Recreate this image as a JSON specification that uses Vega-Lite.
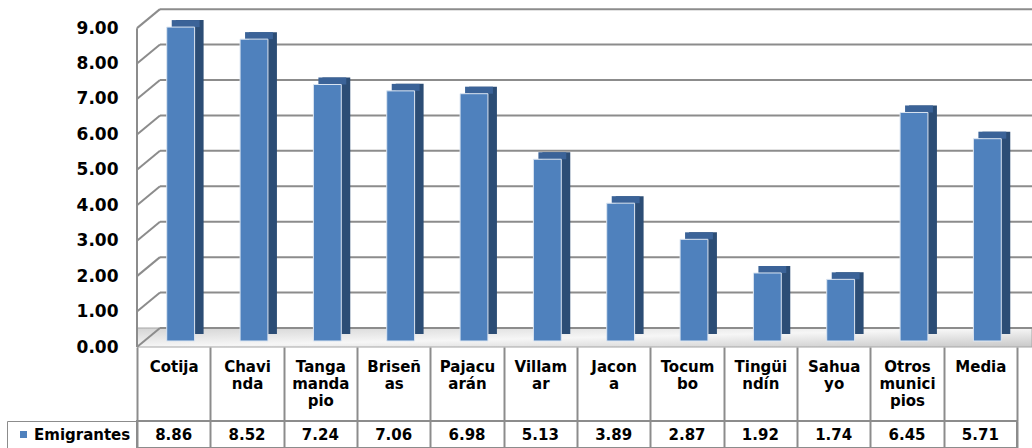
{
  "$schema": "https://vega.github.io/schema/vega-lite/v6.json",
  "padding": {"left": 5, "top": 8, "right": 0, "bottom": 0},
  "background": "white",
  "spacing": 74,
  "bounds": "flush",
  "resolve": {"scale": {"color": "independent"}, "legend": {"color": "independent"}},
  "config": {
    "font": "DejaVu Sans",
    "axisY": {"labelOverlap": false, "labelFont": "DejaVu Sans", "labelFontWeight": "bold", "labelFontSize": 17, "labelColor": "black", "labelPadding": 19, "ticks": false, "domain": false, "grid": false}
  },
  "datasets": {
    "datos": [
      {"municipio": "Cotija", "valor": 8.86, "serie": "Emigrantes"},
      {"municipio": "Chavinda", "valor": 8.52, "serie": "Emigrantes"},
      {"municipio": "Tangamandapio", "valor": 7.24, "serie": "Emigrantes"},
      {"municipio": "Briseñas", "valor": 7.06, "serie": "Emigrantes"},
      {"municipio": "Pajacuarán", "valor": 6.98, "serie": "Emigrantes"},
      {"municipio": "Villamar", "valor": 5.13, "serie": "Emigrantes"},
      {"municipio": "Jacona", "valor": 3.89, "serie": "Emigrantes"},
      {"municipio": "Tocumbo", "valor": 2.87, "serie": "Emigrantes"},
      {"municipio": "Tingüindín", "valor": 1.92, "serie": "Emigrantes"},
      {"municipio": "Sahuayo", "valor": 1.74, "serie": "Emigrantes"},
      {"municipio": "Otros municipios", "valor": 6.45, "serie": "Emigrantes"},
      {"municipio": "Media", "valor": 5.71, "serie": "Emigrantes"}
    ],
    "ejes": [
      {"v": 0}, {"v": 1}, {"v": 2}, {"v": 3}, {"v": 4},
      {"v": 5}, {"v": 6}, {"v": 7}, {"v": 8}, {"v": 9}
    ]
  },
  "vconcat": [
    {
      "width": 880,
      "height": 338,
      "view": {"stroke": null},
      "layer": [
        {
          "data": {"name": "ejes"},
          "transform": [{"filter": "datum.v == 0"}],
          "mark": {"type": "rect", "y2Offset": -19, "x2Offset": 15, "color": {"gradient": "linear", "x1": 0, "y1": 0, "x2": 1, "y2": 1, "stops": [{"offset": 0, "color": "#d4d4d4"}, {"offset": 0.5, "color": "#f6f6f6"}, {"offset": 1, "color": "#c8c8c8"}]}, "stroke": "#a6a6a6", "strokeWidth": 1},
          "encoding": {
            "x": {"value": 0},
            "x2": {"value": "width"},
            "y": {"field": "v", "type": "quantitative", "scale": {"domain": [0, 9.54], "nice": false, "zero": false},
                  "axis": {"values": [0, 1, 2, 3, 4, 5, 6, 7, 8, 9], "format": ".2f", "title": null, "labelOverlap": false}},
            "y2": {"datum": 0}
          }
        },
        {
          "data": {"name": "ejes"},
          "mark": {"type": "rule", "color": "#8c8c8c", "strokeWidth": 2, "yOffset": -19, "x2Offset": 15},
          "encoding": {
            "x": {"value": 23},
            "x2": {"value": "width"},
            "y": {"field": "v", "type": "quantitative", "axis": {"values": [0, 1, 2, 3, 4, 5, 6, 7, 8, 9], "format": ".2f", "title": null, "labelOverlap": false}}
          }
        },
        {
          "data": {"name": "ejes"},
          "mark": {"type": "rule", "color": "#8c8c8c", "strokeWidth": 2, "y2Offset": -19},
          "encoding": {
            "x": {"value": 0},
            "x2": {"value": 23},
            "y": {"field": "v", "type": "quantitative", "axis": {"values": [0, 1, 2, 3, 4, 5, 6, 7, 8, 9], "format": ".2f", "title": null, "labelOverlap": false}},
            "y2": {"field": "v"}
          }
        },
        {
          "data": {"name": "ejes"},
          "transform": [{"filter": "datum.v == 9"}],
          "mark": {"type": "rule", "color": "#8c8c8c", "strokeWidth": 2},
          "encoding": {
            "x": {"value": 0},
            "y": {"field": "v", "type": "quantitative", "axis": {"values": [0, 1, 2, 3, 4, 5, 6, 7, 8, 9], "format": ".2f", "title": null, "labelOverlap": false}},
            "y2": {"datum": 0}
          }
        },
        {
          "data": {"name": "datos"},
          "mark": {"type": "bar", "color": "#2c4d75", "width": {"band": 0.38}, "xOffset": 16, "yOffset": -13, "y2Offset": -13},
          "encoding": {
            "x": {"field": "municipio", "type": "nominal", "sort": null, "axis": null, "scale": {"paddingInner": 0, "paddingOuter": 0}},
            "y": {"field": "valor", "type": "quantitative", "axis": {"values": [0, 1, 2, 3, 4, 5, 6, 7, 8, 9], "format": ".2f", "title": null, "labelOverlap": false}},
            "y2": {"datum": 0}
          }
        },
        {
          "data": {"name": "datos"},
          "mark": {"type": "bar", "color": "#3b6398", "width": {"band": 0.38}, "xOffset": 12, "yOffset": -13, "y2Offset": -6},
          "encoding": {
            "x": {"field": "municipio", "type": "nominal", "sort": null, "axis": null},
            "y": {"field": "valor", "type": "quantitative", "axis": {"values": [0, 1, 2, 3, 4, 5, 6, 7, 8, 9], "format": ".2f", "title": null, "labelOverlap": false}},
            "y2": {"field": "valor"}
          }
        },
        {
          "data": {"name": "datos"},
          "mark": {"type": "bar", "color": "#4f81bd", "stroke": "#dce6f2", "strokeWidth": 1, "width": {"band": 0.38}, "xOffset": 7, "yOffset": -6, "y2Offset": -6},
          "encoding": {
            "x": {"field": "municipio", "type": "nominal", "sort": null, "axis": null},
            "y": {"field": "valor", "type": "quantitative", "axis": {"values": [0, 1, 2, 3, 4, 5, 6, 7, 8, 9], "format": ".2f", "title": null, "labelOverlap": false}},
            "y2": {"datum": 0}
          }
        }
      ]
    },
    {
      "width": 880,
      "height": 27,
      "view": {"stroke": "#8c8c8c", "strokeWidth": 2},
      "data": {"name": "datos"},
      "encoding": {
        "x": {
          "field": "municipio", "type": "nominal", "sort": null,
          "scale": {"paddingInner": 0, "paddingOuter": 0},
          "axis": {
            "orient": "top", "title": null, "labelAngle": 0, "domain": false,
            "tickBand": "extent", "tickSize": 74, "tickColor": "#8c8c8c", "tickWidth": 2,
            "grid": true, "gridColor": "#8c8c8c", "gridWidth": 2,
            "labelFont": "DejaVu Sans", "labelFontWeight": "bold", "labelFontSize": 15, "labelColor": "black",
            "labelLineHeight": 17, "labelBaseline": "top", "labelPadding": -12, "labelOverlap": false, "labelBound": false, "labelLimit": 0,
            "labelExpr": "{'Cotija':['Cotija'],'Chavinda':['Chavi','nda'],'Tangamandapio':['Tanga','manda','pio'],'Briseñas':['Briseñ','as'],'Pajacuarán':['Pajacu','arán'],'Villamar':['Villam','ar'],'Jacona':['Jacon','a'],'Tocumbo':['Tocum','bo'],'Tingüindín':['Tingüi','ndín'],'Sahuayo':['Sahua','yo'],'Otros municipios':['Otros','munici','pios'],'Media':['Media']}[datum.value]"
          }
        }
      },
      "layer": [
        {
          "mark": {"type": "square", "opacity": 0},
          "encoding": {
            "color": {
              "field": "serie", "type": "nominal",
              "scale": {"range": ["#4f81bd"]},
              "legend": {
                "orient": "left", "offset": 0, "title": null, "symbolType": "square", "symbolSize": 49,
                "symbolOpacity": 1, "symbolStrokeWidth": 0, "symbolOffset": 3,
                "labelFont": "DejaVu Sans", "labelFontWeight": "bold", "labelFontSize": 15, "labelColor": "black", "labelOffset": 3,
                "padding": 6, "strokeColor": "#8c8c8c"
              }
            }
          }
        },
        {
          "mark": {"type": "text", "font": "DejaVu Sans", "fontWeight": "bold", "fontSize": 15, "color": "black", "baseline": "middle"},
          "encoding": {
            "text": {"field": "valor", "type": "quantitative", "format": ".2f"}
          }
        }
      ]
    }
  ]
}
